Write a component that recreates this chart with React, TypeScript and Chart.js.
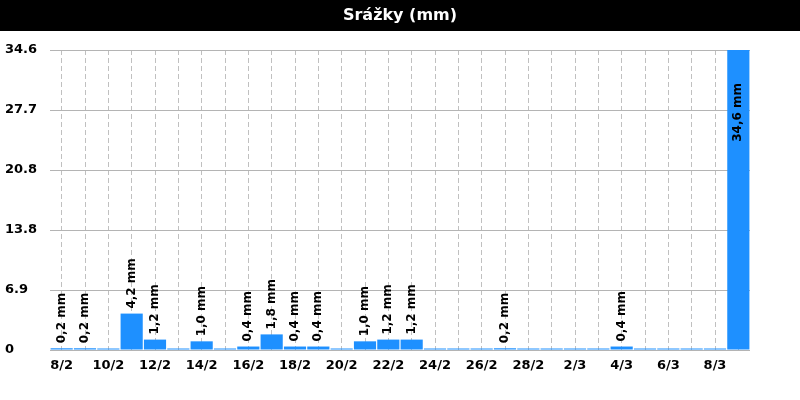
import React, { useEffect, useRef } from "react";
import { Chart, registerables } from "chart.js";

Chart.register(...registerables);

const TITLE = "Srážky (mm)";
const CATEGORIES = [
  "8/2", "9/2", "10/2", "11/2", "12/2", "13/2", "14/2", "15/2", "16/2", "17/2",
  "18/2", "19/2", "20/2", "21/2", "22/2", "23/2", "24/2", "25/2", "26/2", "27/2",
  "28/2", "1/3", "2/3", "3/3", "4/3", "5/3", "6/3", "7/3", "8/3", "9/3",
];
const RAIN = [
  0.2, 0.2, 0, 4.2, 1.2, 0, 1.0, 0, 0.4, 1.8,
  0.4, 0.4, 0, 1.0, 1.2, 1.2, 0, 0, 0, 0.2,
  0, 0, 0, 0, 0.4, 0, 0, 0, 0, 34.6,
];
const Y_MAX = 34.6;
const Y_TICK_COUNT = 5;

const FONT = "'DejaVu Sans', sans-serif";

const titlePlugin = {
  id: "titleBand",
  beforeDraw(chart: any) {
    const { ctx, width } = chart;
    ctx.save();
    ctx.fillStyle = "#000";
    ctx.fillRect(0, 0, width, 31);
    ctx.fillStyle = "#fff";
    ctx.font = `bold 16px ${FONT}`;
    ctx.textAlign = "center";
    ctx.textBaseline = "middle";
    ctx.fillText(TITLE, width / 2, 16);
    ctx.restore();
  },
};

const valueLabelPlugin = {
  id: "valueLabels",
  afterDatasetsDraw(chart: any) {
    const { ctx, chartArea } = chart;
    const meta = chart.getDatasetMeta(0);
    ctx.save();
    ctx.font = `bold 12px ${FONT}`;
    ctx.fillStyle = "#000";
    ctx.textBaseline = "middle";
    meta.data.forEach((bar: any, i: number) => {
      const v = RAIN[i];
      if (!v) return;
      const text = v.toFixed(1).replace(".", ",") + " mm";
      const w = ctx.measureText(text).width;
      ctx.save();
      ctx.translate(bar.x, 0);
      ctx.rotate(-Math.PI / 2);
      let start = bar.y - 5;
      if (start - w < chartArea.top) {
        ctx.textAlign = "right";
        ctx.fillText(text, -(chartArea.top + 33), 0);
      } else {
        ctx.textAlign = "left";
        ctx.fillText(text, -start, 0);
      }
      ctx.restore();
    });
    ctx.restore();
  },
};

export default function App() {
  const ref = useRef<HTMLCanvasElement>(null);

  useEffect(() => {
    if (!ref.current) return;
    const chart = new Chart(ref.current, {
      type: "bar",
      data: {
        labels: CATEGORIES,
        datasets: [
          {
            data: RAIN,
            backgroundColor: "#1E90FF",
            borderWidth: 0,
            barPercentage: 0.95,
            categoryPercentage: 1,
            minBarLength: 1.5,
          },
        ],
      },
      options: {
        responsive: false,
        animation: false,
        layout: { padding: { top: 50, left: 5, right: 50, bottom: 20 } },
        plugins: {
          legend: { display: false },
          title: { display: false },
          tooltip: { enabled: false },
        },
        scales: {
          x: {
            offset: true,
            grid: {
              offset: false,
              color: "#c0c0c0",
              lineWidth: 1,
              drawTicks: false,
            },
            border: { display: false, dash: [5, 3] },
            ticks: {
              autoSkip: false,
              maxRotation: 0,
              padding: 8,
              color: "#000",
              font: { family: FONT, size: 13, weight: "bold" },
              callback: (_v: any, i: number) => (i % 2 === 0 ? CATEGORIES[i] : ""),
            },
            afterFit: (s: any) => {
              s.height = 30;
            },
          },
          y: {
            min: 0,
            max: Y_MAX,
            grid: { color: "#b4b4b4", lineWidth: 1, drawTicks: false },
            border: { display: false },
            ticks: {
              crossAlign: "far",
              padding: 6,
              color: "#000",
              font: { family: FONT, size: 13, weight: "bold" },
              callback: (v: any) => (v === 0 ? "0" : Number(v).toFixed(1)),
            },
            afterBuildTicks: (s: any) => {
              const t = [];
              for (let i = 0; i <= Y_TICK_COUNT; i++) t.push({ value: (Y_MAX * i) / Y_TICK_COUNT });
              s.ticks = t;
            },
            afterFit: (s: any) => {
              s.width = 45;
            },
          },
        },
      },
      plugins: [titlePlugin, valueLabelPlugin],
    } as any);
    return () => chart.destroy();
  }, []);

  return (
    <div style={{ position: "fixed", left: 0, top: 0, width: 800, height: 400, background: "#fff" }}>
      <canvas ref={ref} width={800} height={400} />
    </div>
  );
}
